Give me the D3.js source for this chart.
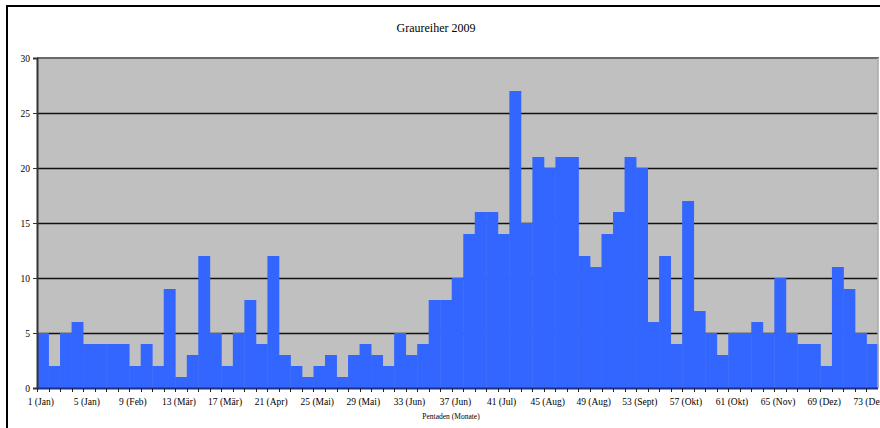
<!DOCTYPE html>
<html>
<head>
<meta charset="utf-8">
<script src="https://cdn.jsdelivr.net/npm/d3@7"></script>
<style>
html,body{margin:0;padding:0;background:#fff;}
svg{display:block;}
text{font-family:"Liberation Serif","Times New Roman",serif;fill:#000;}
</style>
</head>
<body>
<svg id="chart" width="880" height="428"></svg>
<script>
const title = "Graureiher 2009";
const xAxisTitle = "Pentaden (Monate)";
const pentads = [1,2,3,4,5,6,7,8,9,10,11,12,13,14,15,16,17,18,19,20,21,22,23,24,25,26,27,28,29,30,31,32,33,34,35,36,37,38,39,40,41,42,43,44,45,46,47,48,49,50,51,52,53,54,55,56,57,58,59,60,61,62,63,64,65,66,67,68,69,70,71,72,73];
const counts = [5,2,5,6,4,4,4,4,2,4, 2,9,1,3,12,5,2,5,8,4, 12,3,2,1,2,3,1,3,4,3, 2,5,3,4,8,8,10,14,16,16, 14,27,15,21,20,21,21,12,11,14, 16,21,20,6,12,4,17,7,5,3, 5,5,6,5,10,5,4,4,2,11, 9,5,4];
const tickPentads = [1,5,9,13,17,21,25,29,33,37,41,45,49,53,57,61,65,69,73];
const tickLabels = ["1 (Jan)","5 (Jan)","9 (Feb)","13 (Mär)","17 (Mär)","21 (Apr)","25 (Mai)","29 (Mai)","33 (Jun)","37 (Jun)","41 (Jul)","45 (Aug)","49 (Aug)","53 (Sept)","57 (Okt)","61 (Okt)","65 (Nov)","69 (Dez)","73 (Dez)"];
const yTicks = [0,5,10,15,20,25,30];

const svg = d3.select("#chart");
const L = 37, R = 878, T = 58, B = 388;

// outer chart border
svg.append("rect").attr("x",7).attr("y",6).attr("width",900).attr("height",440)
  .attr("fill","#fff").attr("stroke","#000").attr("stroke-width",2);

const x = d3.scaleBand().domain(pentads).range([L,R]).padding(0);
const y = d3.scaleLinear().domain([0,30]).range([B,T]);

// plot background
svg.append("rect").attr("x",L).attr("y",T).attr("width",R-L).attr("height",B-T).attr("fill","#c0c0c0");

// gridlines
svg.append("g").selectAll("line").data(yTicks.filter(v=>v>0 && v<30)).join("line")
  .attr("x1",L).attr("x2",R).attr("y1",d=>Math.round(y(d))+0.5).attr("y2",d=>Math.round(y(d))+0.5)
  .attr("stroke","#111").attr("stroke-width",1.3);

// bars
svg.append("g").selectAll("rect").data(pentads).join("rect")
  .attr("x",d=>x(d)).attr("width",x.bandwidth()+0.4)
  .attr("y",(d,i)=>y(counts[i])).attr("height",(d,i)=>B-y(counts[i]))
  .attr("fill","#3366ff");

// plot border top/right
svg.append("line").attr("x1",L).attr("x2",R+1).attr("y1",T).attr("y2",T).attr("stroke","#6a6a6a").attr("stroke-width",2);
svg.append("line").attr("x1",R).attr("x2",R).attr("y1",T).attr("y2",B).attr("stroke","#a8a8a8").attr("stroke-width",1.5);

// y axis
const yAxis = d3.axisLeft(y).tickValues(yTicks).tickSize(4).tickPadding(3).tickFormat(d3.format("d"));
const gy = svg.append("g").attr("transform",`translate(${L},0)`).call(yAxis);
gy.select(".domain").attr("stroke","#333").attr("stroke-width",2);
gy.selectAll(".tick line").attr("stroke","#333");
gy.selectAll(".tick text").attr("font-size","9.5px").attr("font-family","Liberation Serif, serif").attr("fill","#000");

// x axis line
svg.append("line").attr("x1",L).attr("x2",R).attr("y1",B+0.5).attr("y2",B+0.5).attr("stroke","#1a2f8a").attr("stroke-width",2);

// x tick marks at category boundaries
svg.append("g").selectAll("line").data(pentads).join("line")
  .attr("x1",d=>Math.round(x(d))+0.5).attr("x2",d=>Math.round(x(d))+0.5)
  .attr("y1",B).attr("y2",B+4).attr("stroke","#222").attr("stroke-width",1);

// x tick labels
const xAxis = d3.axisBottom(x).tickValues(tickPentads).tickSize(0).tickPadding(10)
  .tickFormat(d=>tickLabels[tickPentads.indexOf(d)]);
const gx = svg.append("g").attr("transform",`translate(-2,${B})`).call(xAxis);
gx.select(".domain").remove();
gx.selectAll(".tick text").attr("font-size","9.5px").attr("font-family","Liberation Serif, serif").attr("fill","#000");

// titles
svg.append("text").attr("x",436).attr("y",32).attr("text-anchor","middle").attr("font-size","12px").text(title);
svg.append("text").attr("x",451).attr("y",419).attr("text-anchor","middle").attr("font-size","7.5px").text(xAxisTitle);
</script>
</body>
</html>
